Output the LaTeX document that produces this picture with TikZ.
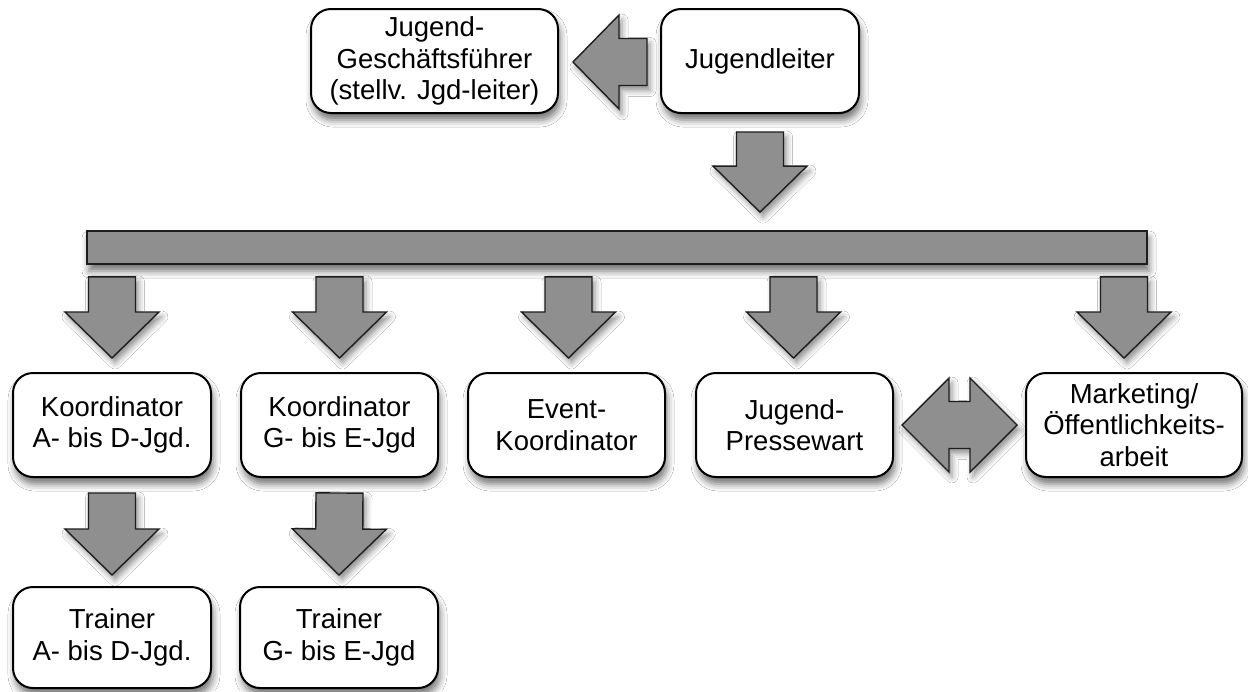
\documentclass[tikz,border=0pt]{standalone}
\usepackage{fontspec}
\setmainfont{Liberation Sans}
\usetikzlibrary{calc,shadows.blur}
\definecolor{arrfill}{RGB}{143,143,143}
\definecolor{arrline}{RGB}{30,30,30}
\tikzset{
  orgbox/.style={draw=black, line width=2pt, rounded corners=20pt, fill=white,
    align=center, inner sep=0pt, font=\fontsize{27.5}{31.5}\selectfont,
    minimum height=104pt,
    blur shadow={shadow xshift=2pt, shadow yshift=-7pt, shadow blur radius=7pt, shadow opacity=55}},
  blockarr/.style={draw=arrline, fill=arrfill, line width=1.4pt, line join=miter,
    blur shadow={shadow xshift=3pt, shadow yshift=-5pt, shadow blur radius=6pt, shadow opacity=45}},
  barbox/.style={draw=arrline, fill=arrfill, line width=1.8pt, inner sep=0pt,
    blur shadow={shadow xshift=2pt, shadow yshift=-7pt, shadow blur radius=7pt, shadow opacity=55}}
}
% single block arrow from start #1 to tip #2
\newcommand\blockarrow[2]{%
  \coordinate (BAs) at #1;
  \coordinate (BAt) at #2;
  \coordinate (BAh) at ($(BAt)!46pt!(BAs)$);
  \draw[blockarr] ($(BAs)!23.5pt!90:(BAt)$) -- ($(BAh)!23.5pt!90:(BAt)$) --
    ($(BAh)!47pt!90:(BAt)$) -- (BAt) -- ($(BAh)!47pt!-90:(BAt)$) --
    ($(BAh)!23.5pt!-90:(BAt)$) -- ($(BAs)!23.5pt!-90:(BAt)$) -- cycle;}
% double block arrow between tips #1 and #2
\newcommand\doubleblock[2]{%
  \coordinate (DAa) at #1;
  \coordinate (DAb) at #2;
  \coordinate (DAha) at ($(DAa)!47pt!(DAb)$);
  \coordinate (DAhb) at ($(DAb)!47pt!(DAa)$);
  \draw[blockarr] (DAa) -- ($(DAha)!47pt!90:(DAb)$) -- ($(DAha)!23.5pt!90:(DAb)$) --
    ($(DAhb)!23.5pt!-90:(DAa)$) -- ($(DAhb)!47pt!-90:(DAa)$) -- (DAb) --
    ($(DAhb)!47pt!90:(DAa)$) -- ($(DAhb)!23.5pt!90:(DAa)$) --
    ($(DAha)!23.5pt!-90:(DAb)$) -- ($(DAha)!47pt!-90:(DAb)$) -- cycle;}
\begin{document}
\begin{tikzpicture}[x=1pt,y=-1pt]
\useasboundingbox[fill=white] (0,0) rectangle (1248,691);
% top row
\node[orgbox, minimum width=247pt] (jg) at (434.5,61) {Jugend-\\Geschäftsführer\\(stellv. Jgd-leiter)};
\node[orgbox, minimum width=198pt] (jl) at (760,61) {Jugendleiter};
% bar
\node[barbox, minimum width=1060pt, minimum height=33pt] (bar) at (617,247.5) {};
% second row
\node[orgbox, minimum width=198pt] (k1) at (112,425) {Koordinator\\A- bis D-Jgd.};
\node[orgbox, minimum width=197pt] (k2) at (339.5,425) {Koordinator\\G- bis E-Jgd};
\node[orgbox, minimum width=197pt] (ev) at (566.5,425) {Event-\\Koordinator};
\node[orgbox, minimum width=197pt] (pr) at (794.5,425) {Jugend-\\Pressewart};
\node[orgbox, minimum width=216pt] (mk) at (1134,425) {Marketing/\\Öffentlichkeits-\\arbeit};
% third row
\node[orgbox, minimum width=198pt, minimum height=101pt] (t1) at (112,637.5) {Trainer\\A- bis D-Jgd.};
\node[orgbox, minimum width=198pt, minimum height=101pt] (t2) at (339,637.5) {Trainer\\G- bis E-Jgd};
% connectors
\blockarrow{($(jl.west)+(-13pt,-1pt)$)}{($(jg.east)+(14pt,-1pt)$)}
\blockarrow{($(jl.south)+(0,-18pt)$)}{($(bar.north -| jl.south)+(0,18pt)$)}
\blockarrow{($(bar.south -| k1.north)+(0,-12pt)$)}{($(k1.north)+(0,14pt)$)}
\blockarrow{($(bar.south -| k2.north)+(0,-12pt)$)}{($(k2.north)+(0,14pt)$)}
\blockarrow{($(bar.south -| ev.north)+(2pt,-12pt)$)}{($(ev.north)+(2pt,14pt)$)}
\blockarrow{($(bar.south -| pr.north)+(-1pt,-12pt)$)}{($(pr.north)+(-1pt,14pt)$)}
\blockarrow{($(bar.south -| mk.north)+(-10pt,-12pt)$)}{($(mk.north)+(-10pt,14pt)$)}
\blockarrow{($(k1.south)+(0,-15pt)$)}{($(t1.north)+(0,11pt)$)}
\blockarrow{($(k2.south)+(0,-15pt)$)}{($(t2.north)+(0,11pt)$)}
\doubleblock{($(pr.east)+(8pt,0)$)}{($(mk.west)+(-8pt,0)$)}
\end{tikzpicture}
\end{document}
